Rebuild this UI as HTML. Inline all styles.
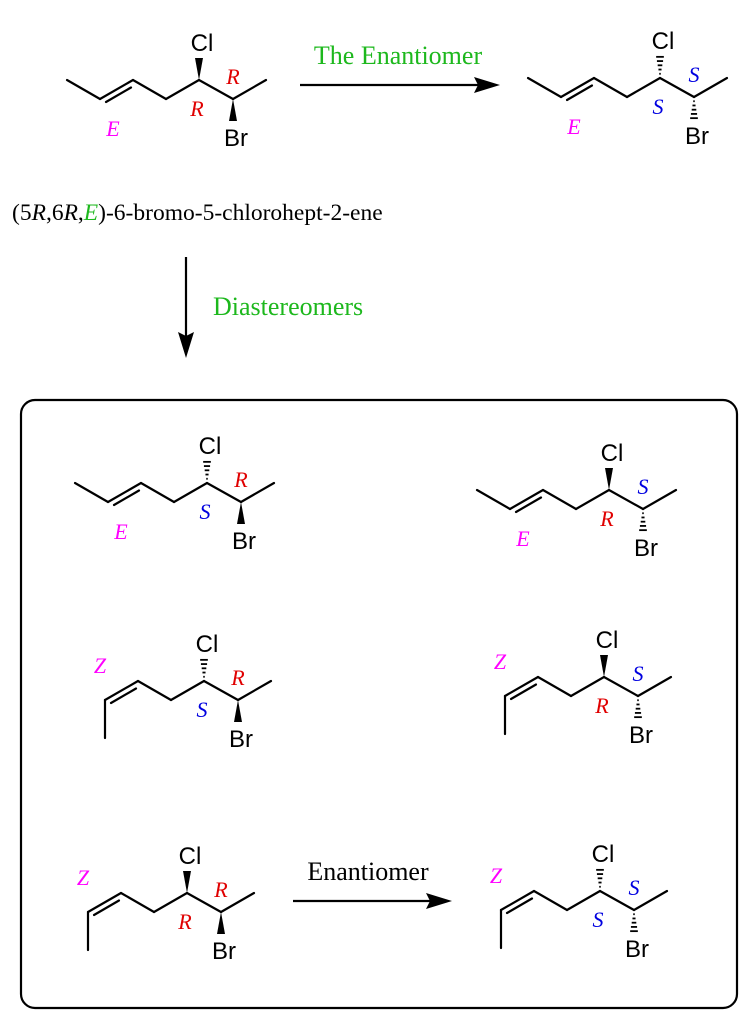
<!DOCTYPE html>
<html><head><meta charset="utf-8"><style>
html,body{margin:0;padding:0;background:#fff;}
svg{display:block;}
text{font-family:"Liberation Serif",serif;}
</style></head><body>
<svg id="s" width="752" height="1018" viewBox="0 0 752 1018" xmlns="http://www.w3.org/2000/svg">
<rect x="21" y="400" width="716" height="608" rx="14" fill="none" stroke="#000" stroke-width="2.2"/>
<line x1="300" y1="85" x2="482" y2="85" stroke="#000" stroke-width="2.2"/>
<polygon points="500,85 474,77 478,85 474,93" fill="#000"/>
<line x1="186" y1="257" x2="186" y2="340" stroke="#000" stroke-width="2.2"/>
<polygon points="186,358 178,332 186,336 194,332" fill="#000"/>
<line x1="293" y1="901" x2="434" y2="901" stroke="#000" stroke-width="2.2"/>
<polygon points="452,901 426,893 430,901 426,909" fill="#000"/>
<text x="398" y="64" font-size="26" fill="#1db81d" text-anchor="middle">The Enantiomer</text>
<text x="12" y="220" font-size="23.5">(5<tspan font-style="italic">R</tspan>,6<tspan font-style="italic">R</tspan>,<tspan font-style="italic" fill="#1db81d">E</tspan>)-6-bromo-5-chlorohept-2-ene</text>
<text x="213" y="315" font-size="26" fill="#1db81d">Diastereomers</text>
<text x="368" y="880" font-size="26" fill="#000" text-anchor="middle">Enantiomer</text>
<g id="m"></g>
</svg>
<script>
var mols=[
 [199,80,'E','w','w','R','R'],
 [660,78,'E','h','h','S','S'],
 [207,483,'E','h','w','S','R'],
 [609,490,'E','w','h','R','S'],
 [204,681,'Z','h','w','S','R'],
 [604,677,'Z','w','h','R','S'],
 [187,893,'Z','w','w','R','R'],
 [600,891,'Z','h','h','S','S']
];
var out='';
function L(a,b,c,d){return '<line x1="'+a+'" y1="'+b+'" x2="'+c+'" y2="'+d+'" stroke="#000" stroke-width="2.2" stroke-linecap="round"/>';}
function wedge(x1,y1,x2,y2,type){
 var dx=x2-x1,dy=y2-y1,len=Math.hypot(dx,dy),px=-dy/len,py=dx/len,w=4;
 if(type=='w'){
  return '<polygon points="'+x1+','+y1+' '+(x2+px*w)+','+(y2+py*w)+' '+(x2-px*w)+','+(y2-py*w)+'" fill="#000"/>';
 }
 var s='';
 for(var i=1;i<=5;i++){var t=i/5.2;var cx=x1+dx*t,cy=y1+dy*t,ww=w*t;
  s+='<line x1="'+(cx+px*ww)+'" y1="'+(cy+py*ww)+'" x2="'+(cx-px*ww)+'" y2="'+(cy-py*ww)+'" stroke="#000" stroke-width="1.8"/>';}
 return s;
}
function col(l){return l=='R'?'#e00000':'#0000e0';}
mols.forEach(function(m){
 var X=m[0],Y=m[1];
 var pts=[[-132,0],[-99,19],[-66,0],[-33,19],[0,0],[34,19],[67,0]];
 if(m[2]=='Z') pts[0]=[-99,57];
 for(var i=0;i<6;i++){out+=L(X+pts[i][0],Y+pts[i][1],X+pts[i+1][0],Y+pts[i+1][1]);}
 out+=L(X-93,Y+22,X-68,Y+7.5);
 out+=wedge(X,Y,X,Y-22,m[3]);
 out+=wedge(X+34,Y+19,X+34,Y+41,m[4]);
 out+='<text x="'+(X+3)+'" y="'+(Y-29)+'" font-size="24" text-anchor="middle" style="font-family:Liberation Sans,sans-serif">Cl</text>';
 out+='<text x="'+(X+37)+'" y="'+(Y+66)+'" font-size="24" text-anchor="middle" style="font-family:Liberation Sans,sans-serif">Br</text>';
 out+='<text x="'+(X-2)+'" y="'+(Y+36)+'" font-size="22" font-style="italic" fill="'+col(m[5])+'" text-anchor="middle">'+m[5]+'</text>';
 out+='<text x="'+(X+34)+'" y="'+(Y+4)+'" font-size="22" font-style="italic" fill="'+col(m[6])+'" text-anchor="middle">'+m[6]+'</text>';
 if(m[2]=='E') out+='<text x="'+(X-86)+'" y="'+(Y+56)+'" font-size="22" font-style="italic" fill="#ff00ff" text-anchor="middle">E</text>';
 else out+='<text x="'+(X-104)+'" y="'+(Y-8)+'" font-size="22" font-style="italic" fill="#ff00ff" text-anchor="middle">Z</text>';
});
document.getElementById('m').innerHTML=out;
</script>
</body></html>
